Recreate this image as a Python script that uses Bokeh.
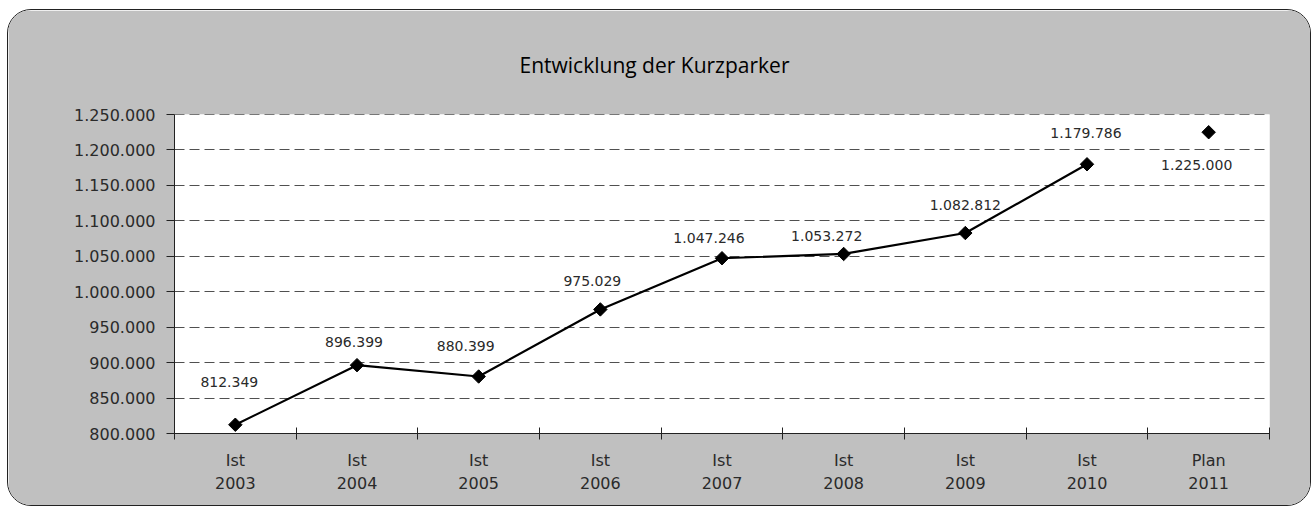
from bokeh.plotting import figure
from bokeh.models import Range1d, FixedTicker, LinearAxis, Span, ColumnDataSource
from bokeh.core.properties import value
from bokeh.embed import file_html
from bokeh.resources import INLINE

# ---- data ----
kind_labels = ["Ist", "Ist", "Ist", "Ist", "Ist", "Ist", "Ist", "Ist", "Plan"]
years = ["2003", "2004", "2005", "2006", "2007", "2008", "2009", "2010", "2011"]
ist_values = [812349, 896399, 880399, 975029, 1047246, 1053272, 1082812, 1179786]
plan_values = [1225000]
y_ticks = [800000, 850000, 900000, 950000, 1000000, 1050000, 1100000,
           1150000, 1200000, 1250000]
title_text = "Entwicklung der Kurzparker"

# label placement (pixel offsets from each marker, styling only)
label_dx = [-6, -3, -13, -8, -13, -17, 0, -1, -12]
label_dy = [-43, -23, -31, -28, -20, -18, -28, -31, 33]


def de_fmt(v):
    return f"{v:,}".replace(",", ".")


n_cat = len(years)
centers = [i + 0.5 for i in range(n_cat)]
all_values = ist_values + plan_values

FONT = "DejaVu Sans"
TXT = "#2a2a2a"

p = figure(width=1304, height=497,
           x_range=Range1d(0, n_cat), y_range=Range1d(y_ticks[0], y_ticks[-1]),
           output_backend="svg", toolbar_location=None)
p.styles = {"border": "1px solid #222", "border-radius": "24px", "overflow": "hidden",
            "margin-left": "7px", "margin-top": "9px"}
p.background_fill_color = "white"
p.border_fill_color = "#c0c0c0"
p.outline_line_color = None
p.min_border_left = 166
p.min_border_right = 43
p.min_border_top = 104
p.min_border_bottom = 74

# title
p.title.text = title_text
p.title.align = "left"
p.title.offset = 345
p.title.standoff = 72
p.title.text_font = "Open Sans"
p.title.text_font_size = "21px"
p.title.text_font_style = "normal"
p.title.text_color = "black"

# y axis
ya = p.yaxis[0]
ya.ticker = FixedTicker(ticks=y_ticks)
ya.major_label_overrides = {t: de_fmt(t) for t in y_ticks}
ya.major_tick_out = 8
ya.major_tick_in = 0
ya.minor_tick_out = 0
ya.minor_tick_in = 0
ya.axis_line_color = "#222"
ya.major_tick_line_color = "#222"
ya.major_label_standoff = 11
ya.major_label_text_font = FONT
ya.major_label_text_font_size = "16px"
ya.major_label_text_color = TXT

# grid
p.xgrid.visible = False
p.ygrid.ticker = FixedTicker(ticks=y_ticks)
p.ygrid.grid_line_color = "#505050"
p.ygrid.grid_line_dash = "10 5"
p.ygrid.grid_line_width = 1
p.add_layout(Span(location=y_ticks[-1], dimension="width", line_color="black",
                  line_dash="10 5", line_width=1.2))

# x axis: kind labels, ticks at category boundaries
xa = p.xaxis[0]
xa.ticker = FixedTicker(ticks=centers, minor_ticks=list(range(n_cat + 1)))
xa.major_label_overrides = {c: k for c, k in zip(centers, kind_labels)}
xa.major_tick_out = 0
xa.major_tick_in = 0
xa.minor_tick_out = 6
xa.minor_tick_in = 6
xa.axis_line_color = "#222"
xa.minor_tick_line_color = "#222"
xa.major_label_standoff = 11
xa.major_label_text_font = FONT
xa.major_label_text_font_size = "16px"
xa.major_label_text_color = TXT

# second x axis: years
xa2 = LinearAxis(ticker=FixedTicker(ticks=centers))
xa2.major_label_overrides = {c: y for c, y in zip(centers, years)}
xa2.axis_line_color = None
xa2.major_tick_line_color = None
xa2.minor_tick_line_color = None
xa2.major_tick_out = 0
xa2.major_tick_in = 0
xa2.major_label_standoff = 4
xa2.major_label_text_font = FONT
xa2.major_label_text_font_size = "16px"
xa2.major_label_text_color = TXT
p.add_layout(xa2, "below")

# series
ist_src = ColumnDataSource(dict(x=centers[:len(ist_values)], y=ist_values))
plan_src = ColumnDataSource(dict(x=centers[len(ist_values):], y=plan_values))
p.line("x", "y", source=ist_src, line_color="black", line_width=2.2)
p.scatter("x", "y", source=ist_src, marker="square", angle=45, angle_units="deg",
          size=9.5, fill_color="black", line_color="black")
p.scatter("x", "y", source=plan_src, marker="square", angle=45, angle_units="deg",
          size=9.5, fill_color="black", line_color="black")

lab_src = ColumnDataSource(dict(x=centers, y=all_values,
                                t=[de_fmt(v) for v in all_values],
                                dx=label_dx, dy=label_dy))
p.text("x", "y", text="t", source=lab_src, x_offset="dx", y_offset="dy",
       text_font=value(FONT), text_font_size="14px", text_color=TXT,
       text_align="center", text_baseline="middle")

open("out.html", "w").write(file_html(p, INLINE))
